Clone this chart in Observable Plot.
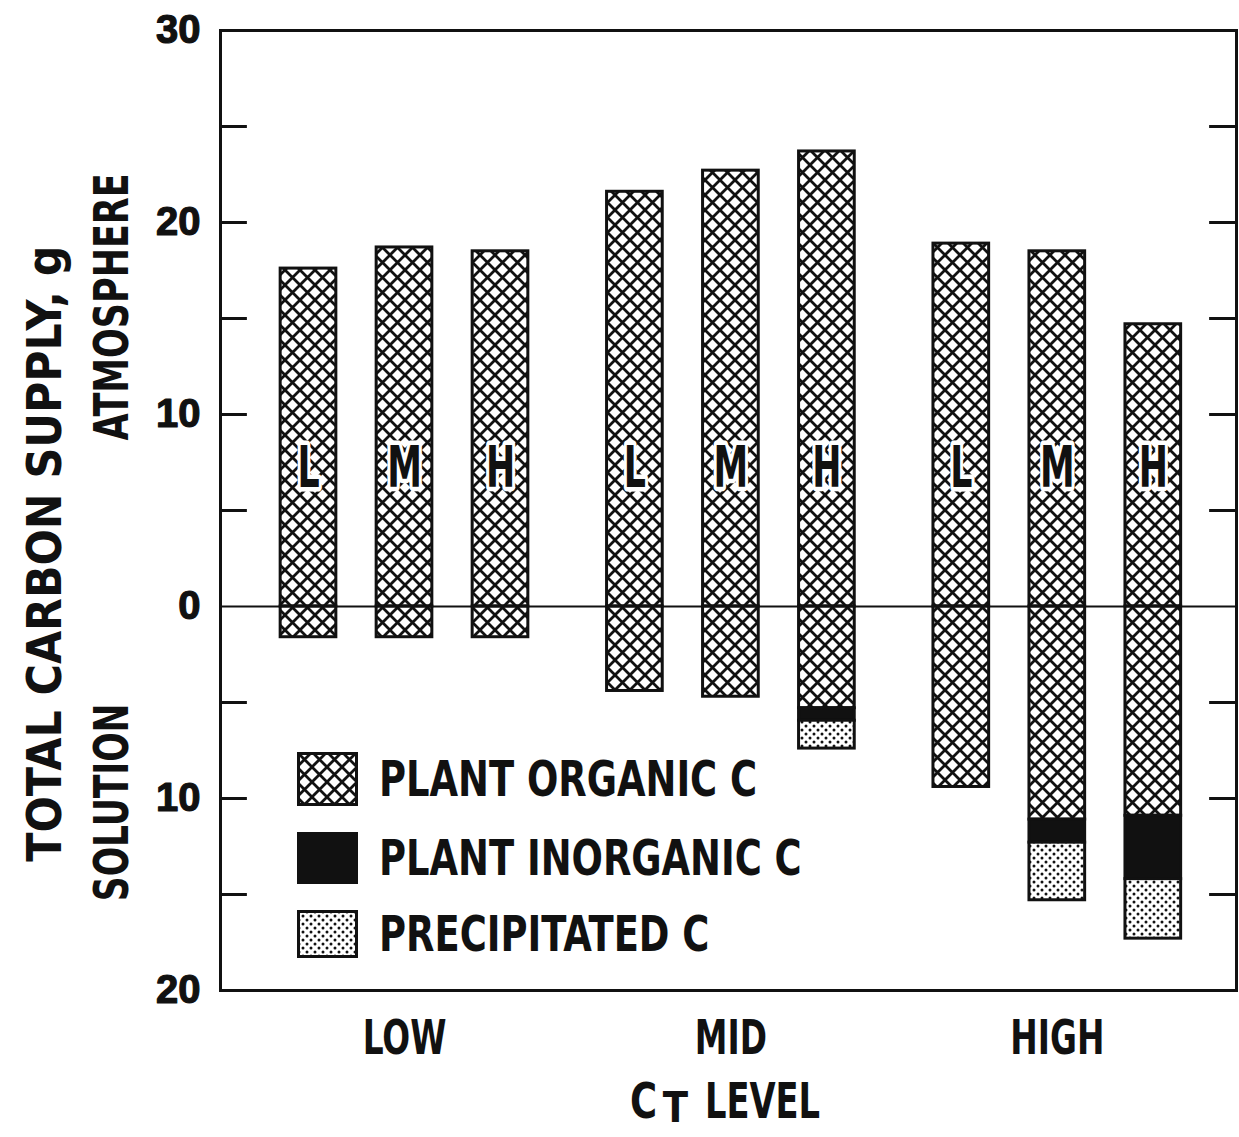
<!DOCTYPE html>
<html>
<head>
<meta charset="utf-8">
<script src="https://cdn.jsdelivr.net/npm/d3@7"></script>
<script src="https://cdn.jsdelivr.net/npm/@observablehq/plot@0.6"></script>
<style>
  body { margin: 0; background: #fff; }
  #wrap { position: relative; width: 1239px; height: 1137px; overflow: hidden; background: #fff; }
  .narrow { font-family: "Liberation Sans Narrow", "DejaVu Sans Condensed", "Arial Narrow", sans-serif; font-weight: bold; }
  #legend { position: absolute; left: 297px; top: 0; }
  .lrow { position: absolute; left: 0; display: flex; align-items: center; white-space: nowrap; }
  .lrow svg { display: block; flex: none; }
  .lrow span { display: inline-block; margin-left: 21px; font-size: 50px; color: #111; line-height: 1; transform: scaleX(0.82); transform-origin: left center; }
</style>
</head>
<body>
<svg width="0" height="0" style="position:absolute">
  <defs>
    <pattern id="xhatch" patternUnits="userSpaceOnUse" width="15" height="15">
      <rect width="15" height="15" fill="#fff"/>
      <path d="M-7.5,7.5L7.5,22.5M0,0L15,15M7.5,-7.5L22.5,7.5M-7.5,7.5L7.5,-7.5M0,15L15,0M7.5,22.5L22.5,7.5" stroke="#111" stroke-width="2.8" fill="none"/>
    </pattern>
    <pattern id="stipple" patternUnits="userSpaceOnUse" width="8" height="8">
      <rect width="8" height="8" fill="#fff"/>
      <circle cx="2" cy="2" r="1.5" fill="#111"/>
      <circle cx="6" cy="6" r="1.5" fill="#111"/>
    </pattern>
  </defs>
</svg>
<div id="wrap"></div>
<script>
// ---- data ----
const groups = ["LOW", "MID", "HIGH"];
const levels = ["L", "M", "H"];
const atmosphereOrganic = [17.6, 18.7, 18.5, 21.6, 22.7, 23.7, 18.9, 18.5, 14.7];
const solutionOrganic   = [1.6, 1.6, 1.6, 4.4, 4.7, 5.3, 9.4, 11.1, 10.9];
const solutionInorganic = [0, 0, 0, 0, 0, 0.65, 0, 1.2, 3.3];
const solutionPrecip    = [0, 0, 0, 0, 0, 1.45, 0, 3.0, 3.1];
const yTickValues = [-20, -10, 0, 10, 20, 30];
const minorTickValues = [-15, -10, -5, 5, 10, 15, 20, 25];
const componentNames = ["PLANT ORGANIC C", "PLANT INORGANIC C", "PRECIPITATED C"];
const yTitleMain = "TOTAL CARBON SUPPLY, g";
const yTitleTop = "ATMOSPHERE";
const yTitleBottom = "SOLUTION";
const xTitleParts = ["C", "T", "LEVEL"];

// ---- layout constants ----
const GAP = 3.4, HALF = 0.29, TICK = 0.28, LETTER_AT = 7.2;
const X_MIN = -1.9167, X_MAX = X_MIN + 1016 / 96;
const fills = ["url(#xhatch)", "#111", "url(#stipple)"];
const NARROW = '"Liberation Sans Narrow", "DejaVu Sans Condensed", "Arial Narrow", sans-serif';
const WIDE = '"Liberation Sans", Arial, "DejaVu Sans", sans-serif';
const INK = "#111";

const bars = atmosphereOrganic.map((v, i) => ({
  group: groups[Math.floor(i / 3)],
  level: levels[i % 3],
  pos: Math.floor(i / 3) * GAP + (i % 3 - 1)
}));

const segments = [];
atmosphereOrganic.forEach((v, i) => {
  const pos = bars[i].pos;
  segments.push({pos, comp: 0, y1: 0, y2: v});
  let base = 0;
  [solutionOrganic[i], solutionInorganic[i], solutionPrecip[i]].forEach((s, c) => {
    if (s > 0) { segments.push({pos, comp: c, y1: -base, y2: -(base + s)}); base += s; }
  });
});

const rectFor = (c) => Plot.rect(segments.filter(d => d.comp === c), {
  x1: d => d.pos - HALF, x2: d => d.pos + HALF, y1: "y1", y2: "y2",
  fill: fills[c], stroke: INK, strokeWidth: 3
});

const narrowText = (data, opts, desc) => Plot.text(data, {
  fontFamily: NARROW, fontWeight: "bold", fill: INK, ariaDescription: desc, ...opts
});

const chart = Plot.plot({
  width: 1239, height: 1137,
  marginLeft: 220, marginRight: 3, marginTop: 30, marginBottom: 147,
  x: {domain: [X_MIN, X_MAX], axis: null},
  y: {domain: [-20, 30], axis: null},
  marks: [
    rectFor(0), rectFor(1), rectFor(2),
    narrowText(bars, {x: "pos", y: () => LETTER_AT, text: "level", fontSize: 57, stroke: "#fff", strokeWidth: 9}, "letters"),
    Plot.ruleY([0], {stroke: INK, strokeWidth: 2}),
    Plot.ruleY(minorTickValues, {y: d => d, x1: X_MIN, x2: X_MIN + TICK, stroke: INK, strokeWidth: 3}),
    Plot.ruleY(minorTickValues, {y: d => d, x1: X_MAX - TICK, x2: X_MAX, stroke: INK, strokeWidth: 3}),
    Plot.frame({stroke: INK, strokeWidth: 3}),
    Plot.text(yTickValues, {y: d => d, text: d => String(Math.abs(d)), frameAnchor: "left", textAnchor: "end", dx: -20,
      fontSize: 40, fontFamily: WIDE, fontWeight: "bold", fill: INK, stroke: INK, strokeWidth: 1.2}),
    narrowText(groups, {x: (d, i) => i * GAP, text: d => d, frameAnchor: "bottom", dy: 63, fontSize: 48}, "groups"),
    narrowText([yTitleMain], {y: () => 2.75, text: d => d, frameAnchor: "left", textAnchor: "middle", dx: -175, rotate: -90, fontSize: 48}, "ymain"),
    narrowText([yTitleTop], {y: () => 15.6, text: d => d, frameAnchor: "left", textAnchor: "middle", dx: -108, rotate: -90, fontSize: 48}, "ytop"),
    narrowText([yTitleBottom], {y: () => -10.2, text: d => d, frameAnchor: "left", textAnchor: "middle", dx: -108, rotate: -90, fontSize: 48}, "ybottom"),
    narrowText([xTitleParts[0]], {text: d => d, frameAnchor: "bottom", dx: -85, dy: 127, fontSize: 50}, "xc"),
    narrowText([xTitleParts[1]], {text: d => d, frameAnchor: "bottom", dx: -53, dy: 131, fontSize: 42}, "xt"),
    narrowText([xTitleParts[2]], {text: d => d, frameAnchor: "bottom", dx: 34, dy: 127, fontSize: 50}, "xlevel")
  ]
});

const wrap = document.getElementById("wrap");
wrap.appendChild(chart);

// emulate the condensed typeface of the original
const condense = {letters: 0.68, groups: 0.76, ymain: 0.99, ytop: 0.81, ybottom: 0.8, xc: 0.82, xt: 0.98, xlevel: 0.75};
Object.entries(condense).forEach(([desc, f]) => {
  d3.select(chart).selectAll(`g[aria-description="${desc}"] text`).each(function() {
    const len = this.getComputedTextLength();
    this.setAttribute("textLength", (len * f).toFixed(1));
    this.setAttribute("lengthAdjust", "spacingAndGlyphs");
  });
});

// legend
const legend = document.createElement("div");
legend.id = "legend";
const rowTops = [752, 832, 910], rowH = [54, 52, 48];
componentNames.forEach((name, c) => {
  const row = document.createElement("div");
  row.className = "lrow";
  row.style.top = rowTops[c] + "px";
  row.style.height = rowH[c] + "px";
  row.innerHTML = `<svg width="61" height="${rowH[c]}"><rect x="1.5" y="1.5" width="58" height="${rowH[c] - 3}" fill="${fills[c]}" stroke="${INK}" stroke-width="3"/></svg><span class="narrow">${name}</span>`;
  legend.appendChild(row);
});
wrap.appendChild(legend);
</script>
</body>
</html>
